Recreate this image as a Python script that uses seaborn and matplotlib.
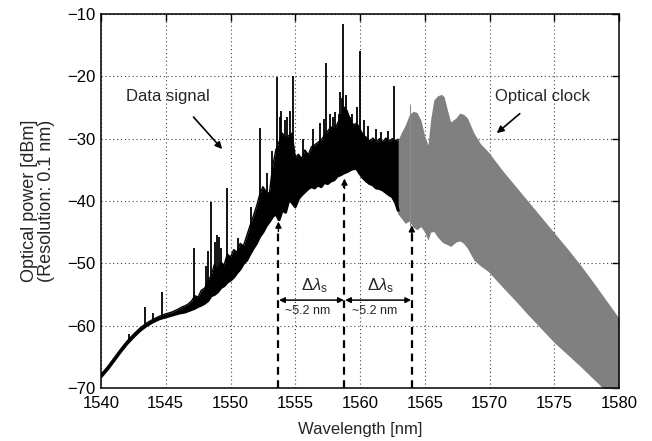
import numpy as np
import pandas as pd
import matplotlib
matplotlib.use("Agg")
import matplotlib.pyplot as plt
import seaborn as sns

# Data signal spectrum: lower / upper envelope of the modulated band (dBm)
sig_wl = [1540.0, 1540.5, 1541.0, 1541.5, 1542.0, 1542.5, 1543.0, 1543.5, 1544.0,
          1544.5, 1545.0, 1545.5,
          1546.00, 1546.25, 1546.50, 1546.75, 1547.00, 1547.25, 1547.50, 1547.75,
          1548.00, 1548.25, 1548.50, 1548.75, 1549.00, 1549.25, 1549.50, 1549.75,
          1550.00, 1550.25, 1550.50, 1550.75, 1551.00, 1551.25, 1551.50, 1551.75,
          1552.00, 1552.25, 1552.50, 1552.75, 1553.00, 1553.25, 1553.50, 1553.75,
          1554.00, 1554.25, 1554.50, 1554.75, 1555.00, 1555.25, 1555.50, 1555.75,
          1556.00, 1556.25, 1556.50, 1556.75, 1557.00, 1557.25, 1557.50, 1557.75,
          1558.00, 1558.25, 1558.50, 1558.75, 1559.00, 1559.25, 1559.50, 1559.75,
          1560.00, 1560.25, 1560.50, 1560.75, 1561.00, 1561.25, 1561.50, 1561.75,
          1562.00, 1562.25, 1562.50, 1562.75, 1562.95]
sig_lo = [-68.2, -67.0, -65.6, -64.2, -62.9, -61.8, -60.8, -60.0, -59.4,
          -58.9, -58.6, -58.3,
          -58.0, -57.9, -57.8, -57.6, -57.4, -57.2, -56.9, -56.7,
          -56.4, -56.0, -55.2, -55.0, -54.6, -53.9, -53.6, -53.0,
          -52.7, -52.2, -51.5, -50.9, -50.0, -49.5, -48.5, -47.6,
          -46.8, -45.7, -45.0, -44.0, -43.3, -42.5, -42.0, -43.0,
          -41.4, -41.8, -39.8, -40.2, -40.9, -39.6, -39.0, -38.5,
          -38.0, -37.7, -37.9, -37.4, -37.7, -37.0, -37.2, -36.8,
          -36.6, -36.0, -35.8, -35.5, -35.3, -35.0, -34.8, -34.8,
          -35.6, -36.3, -36.8, -37.2, -37.4, -37.9, -38.0, -38.2,
          -38.6, -39.0, -39.3, -40.2, -41.5]
sig_hi = [-67.8, -66.6, -65.2, -63.8, -62.5, -61.4, -60.4, -59.6, -59.0,
          -58.5, -58.1, -57.8,
          -57.3, -57.0, -56.8, -56.5, -56.0, -55.2, -55.4, -54.3,
          -54.0, -52.8, -52.0, -50.2, -51.0, -49.8, -50.3, -48.5,
          -49.0, -47.8, -48.2, -46.8, -47.2, -45.6, -44.0, -42.5,
          -40.9, -39.0, -37.7, -38.5, -38.8, -34.5, -31.8, -30.5,
          -29.1, -30.0, -29.5, -29.1, -33.0, -32.5, -33.2, -31.8,
          -32.6, -31.3, -31.0, -30.6, -30.2, -29.5, -28.8, -28.1,
          -28.5, -27.6, -26.5, -24.9, -25.5, -27.0, -27.8, -27.5,
          -28.5, -29.4, -29.8, -30.4, -29.9, -30.6, -30.0, -30.5,
          -29.9, -30.4, -30.0, -30.3, -30.1]

# Discrete spectral lines on top of the data signal
spike_wl = [1542.2, 1543.4, 1544.0, 1544.7, 1547.2, 1548.1, 1548.3, 1548.5, 1548.8,
            1548.95, 1549.1, 1549.3, 1549.7, 1550.6, 1551.6, 1552.3, 1552.8, 1553.2,
            1553.6, 1553.8, 1553.9, 1554.2, 1554.4, 1554.6, 1554.85, 1555.6, 1556.4,
            1556.9, 1557.2, 1557.4, 1557.7, 1557.9, 1558.1, 1558.4, 1558.45, 1558.6,
            1558.7, 1558.9, 1559.2, 1559.4, 1559.8, 1560.0, 1560.3, 1560.6, 1561.2,
            1561.6, 1562.2, 1562.6]
spike_top = [-61.3, -57.0, -58.0, -54.6, -47.5, -50.5, -48.0, -40.1, -46.5,
             -45.5, -45.8, -47.5, -37.9, -46.0, -41.0, -28.3, -35.5, -32.0,
             -20.1, -26.5, -25.5, -27.0, -26.5, -25.5, -20.0, -30.0, -28.5,
             -27.5, -26.8, -17.9, -26.0, -26.5, -25.8, -26.0, -22.5, -23.5,
             -11.6, -23.0, -26.5, -26.0, -25.0, -16.0, -27.0, -28.0, -28.5,
             -29.0, -28.8, -21.6]

# Optical clock spectrum envelope (dBm)
clk_wl = [1562.9, 1563.2, 1563.5, 1563.8, 1564.1, 1564.4, 1564.7, 1565.0, 1565.25,
          1565.45, 1565.7, 1566.0, 1566.3, 1566.5, 1566.75, 1567.0, 1567.4, 1567.7,
          1568.0, 1568.3, 1568.8, 1569.3, 1569.9, 1571.0, 1572.0, 1573.0, 1574.0,
          1575.0, 1576.0, 1577.0, 1578.0, 1579.0, 1580.0]
clk_lo = [-42.0, -42.8, -43.6, -43.2, -44.2, -44.6, -44.1, -45.0, -46.3,
          -45.0, -44.9, -45.8, -46.5, -46.8, -47.0, -47.3, -46.6, -46.4,
          -46.8, -47.6, -49.5, -50.4, -51.3, -53.8, -56.0, -58.3, -60.5,
          -62.7, -64.6, -66.5, -68.5, -70.5, -72.5]
clk_hi = [-30.4, -29.0, -27.8, -26.2, -25.6, -25.8, -27.0, -29.6, -31.0,
          -27.0, -23.8, -23.1, -22.9, -23.3, -25.4, -27.3, -26.7, -25.9,
          -26.1, -26.7, -29.1, -30.8, -32.1, -35.1, -37.6, -40.1, -42.6,
          -45.1, -47.6, -50.2, -53.0, -55.9, -58.8]

# Channel spacing markers
marker_wl = [1553.7, 1558.8, 1564.0]
marker_tip = [-43.3, -36.4, -43.9]
spacing_label = "~5.2 nm"

x_ticks = [1540, 1545, 1550, 1555, 1560, 1565, 1570, 1575, 1580]
y_ticks = [-70, -60, -50, -40, -30, -20, -10]

sns.set_style("white")
plt.rcParams['font.family'] = ['Liberation Sans', 'DejaVu Sans']
plt.rcParams['mathtext.fontset'] = 'custom'
plt.rcParams['mathtext.rm'] = 'Liberation Sans'
plt.rcParams['mathtext.it'] = 'Liberation Sans:italic'

fig = plt.figure(figsize=(6.52, 4.41), dpi=100)
ax = fig.add_axes([101 / 652, 1 - 388 / 441, 518 / 652, 374 / 441])

sig = pd.DataFrame({"wl": sig_wl, "lo": sig_lo, "hi": sig_hi})
clk = pd.DataFrame({"wl": clk_wl, "lo": clk_lo, "hi": clk_hi})

# optical clock (grey band)
ax.fill_between(clk["wl"], clk["lo"], clk["hi"], color="#808080", lw=0, zorder=2)
ax.vlines(1563.85, -44.0, -24.4, color="#8c8c8c", lw=0.8, zorder=2)

# data signal (black band + edge lines)
ax.fill_between(sig["wl"], sig["lo"], sig["hi"], color="black", lw=0, zorder=3)
sns.lineplot(data=sig, x="wl", y="lo", color="black", lw=2.2, ax=ax, zorder=3)
sns.lineplot(data=sig, x="wl", y="hi", color="black", lw=1.0, ax=ax, zorder=3)
spike_base = np.interp(spike_wl, sig_wl, sig_lo)
ax.vlines(spike_wl, spike_base, spike_top, color="black", lw=1.3, zorder=3)

# dashed markers with arrow heads
for wl, tip in zip(marker_wl, marker_tip):
    ax.plot([wl, wl], [-70, tip - 1.2], ls=(0, (3.5, 2.5)), color="black", lw=1.6, zorder=4)
    ax.annotate("", xy=(wl, tip), xytext=(wl, tip - 1.6),
                arrowprops=dict(arrowstyle="-|>", color="black", lw=1.0,
                                mutation_scale=9, shrinkA=0, shrinkB=0), zorder=4)

# spacing arrows and labels
for a, b in zip(marker_wl[:-1], marker_wl[1:]):
    ax.annotate("", xy=(b - 0.05, -55.9), xytext=(a + 0.05, -55.9),
                arrowprops=dict(arrowstyle="<|-|>", color="black", lw=1.1,
                                mutation_scale=8, shrinkA=0, shrinkB=0), zorder=4)
    mid = (a + b) / 2
    ax.text(mid + 0.2, -53.6, r"$\Delta\lambda_\mathrm{s}$", ha="center", va="center",
            fontsize=12, zorder=5)
    ax.text(mid - 0.3, -57.7, spacing_label, ha="center", va="center", fontsize=9, zorder=5)

# annotations
ax.text(1545.2, -23.3, "Data signal", ha="center", va="center", fontsize=12)
ax.annotate("", xy=(1549.5, -32.0), xytext=(1547.0, -26.2),
            arrowprops=dict(arrowstyle="-|>", color="black", lw=1.2, mutation_scale=10))
ax.text(1574.1, -23.3, "Optical clock", ha="center", va="center", fontsize=12)
ax.annotate("", xy=(1570.4, -29.4), xytext=(1572.5, -25.7),
            arrowprops=dict(arrowstyle="-|>", color="black", lw=1.2, mutation_scale=10))

ax.set_xlim(1540, 1580)
ax.set_ylim(-70, -10)
ax.set_xticks(x_ticks)
ax.set_yticks(y_ticks)
ax.set_yticklabels([f"\u2212{abs(v)}" for v in y_ticks])
ax.grid(True, ls=(0, (1, 2.5)), color="#444444", lw=0.8)
ax.set_axisbelow(True)
ax.tick_params(direction="in", length=5, width=1, top=True, right=True,
               labelsize=12, colors="black", pad=4)
ax.tick_params(axis="x", pad=6)
for s in ax.spines.values():
    s.set_color("black")
    s.set_linewidth(1.1)
    s.set_zorder(6)

ax.set_xlabel("Wavelength [nm]", fontsize=12, labelpad=8)
ax.set_ylabel("Optical power [dBm]\n(Resolution: 0.1 nm)", fontsize=13,
              linespacing=1.0)
ax.yaxis.set_label_coords(-0.088, 0.5)

fig.savefig("out.png", dpi=100)
